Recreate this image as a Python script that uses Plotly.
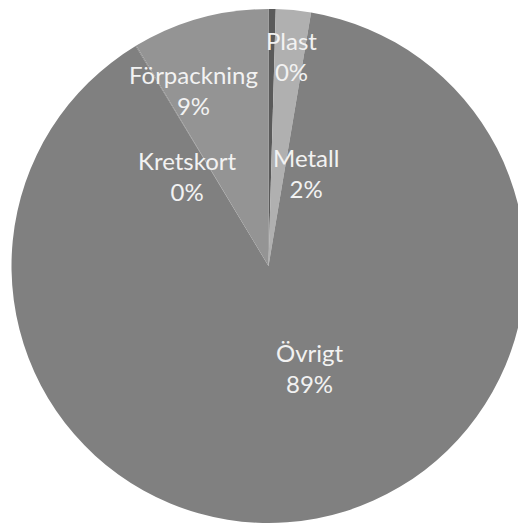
import plotly.graph_objects as go

# Data
categories = ["Plast", "Metall", "Övrigt", "Kretskort", "Förpackning"]
values = [0.45, 2.2, 88.7, 0.05, 8.6]

# Style
colors = ["#5a5a5a", "#b0b0b0", "#808080", "#7a7a7a", "#949494"]
# label centres in window pixels (x, y)
label_pos = [(291, 56), (306, 173), (310, 368), (187.5, 176), (193, 90)]

BODY = 8  # default page body margin
WIN_W, WIN_H = 526, 523
W, H = WIN_W - BODY, WIN_H - BODY
ML, MT, MR, MB = 11 - BODY, 9 - BODY, 0, 0
pw, ph = W - ML - MR, H - MT - MB

total = sum(values)
fig = go.Figure(go.Pie(
    labels=categories,
    values=values,
    sort=False,
    direction="clockwise",
    rotation=0,
    marker=dict(colors=colors, line=dict(width=0)),
    textinfo="none",
    hoverinfo="label+percent",
    showlegend=False,
))

annotations = []
for cat, v, (px, py) in zip(categories, values, label_pos):
    pct = round(v / total * 100)
    annotations.append(dict(
        x=(px - BODY - ML) / pw, y=1 - (py - BODY - MT) / ph,
        xref="paper", yref="paper",
        text=f"{cat}<br>{pct}%",
        showarrow=False,
        xanchor="center", yanchor="middle",
        font=dict(family="Lato", size=24, color="#f2f2f2"),
    ))

fig.update_layout(
    width=W, height=H,
    margin=dict(l=ML, r=MR, t=MT, b=MB),
    paper_bgcolor="white",
    plot_bgcolor="white",
    annotations=annotations,
)

fig.write_html("out.html")
